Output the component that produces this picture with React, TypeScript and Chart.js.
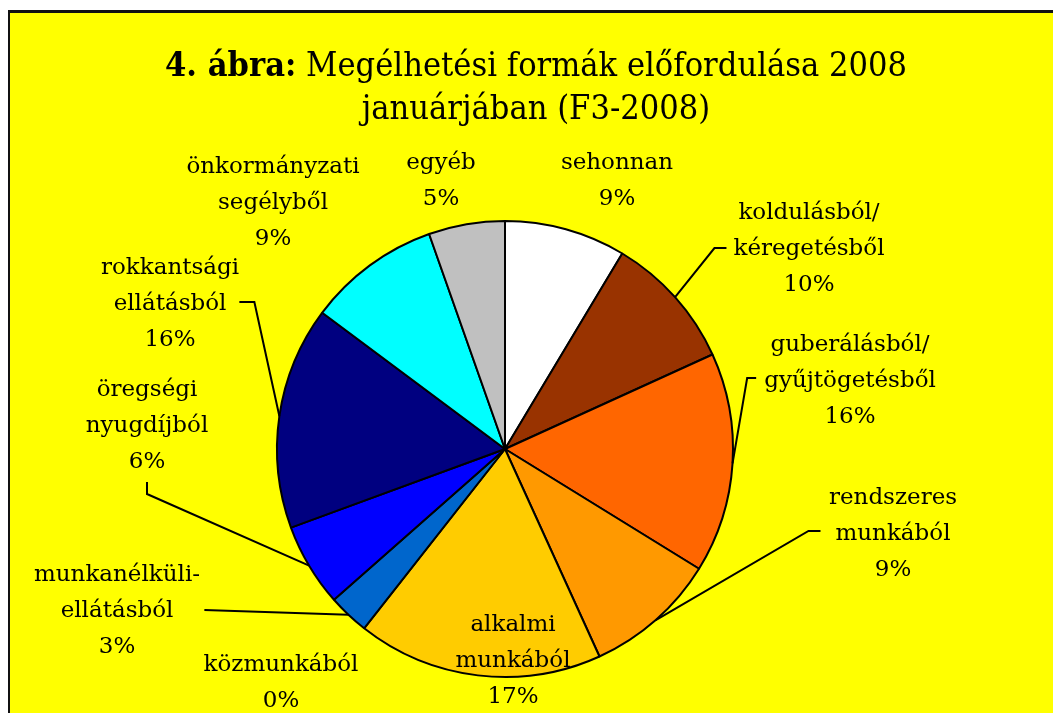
import React, { useEffect, useRef } from "react";
import { Chart, registerables } from "chart.js";

Chart.register(...registerables);

// ---- data ----
const categories: string[][] = [
  ["sehonnan"],
  ["koldulásból/", "kéregetésből"],
  ["guberálásból/", "gyűjtögetésből"],
  ["rendszeres", "munkából"],
  ["alkalmi", "munkából"],
  ["közmunkából"],
  ["munkanélküli-", "ellátásból"],
  ["öregségi", "nyugdíjból"],
  ["rokkantsági", "ellátásból"],
  ["önkormányzati", "segélyből"],
  ["egyéb"],
];
const values: number[] = [8.6, 9.6, 15.6, 9.4, 17.4, 0, 2.9, 5.9, 15.8, 9.4, 5.4];
const colors: string[] = [
  "#FFFFFF",
  "#993300",
  "#FF6600",
  "#FF9900",
  "#FFCC00",
  "#FFFF99",
  "#0066CC",
  "#0000FF",
  "#000080",
  "#00FFFF",
  "#C0C0C0",
];
const titleBold = "4. ábra:";
const titleRest = " Megélhetési formák előfordulása 2008";
const titleLine2 = "januárjában (F3-2008)";

// ---- layout (label placement relative to pie centre) ----
type Leader = { line: number; side: "left" | "right" | "bottom"; gap: number; elbow: number; dy?: number };
const labelLayout: { dx: number; dy: number; leader?: Leader }[] = [
  { dx: 112, dy: -286 },
  { dx: 304, dy: -236, leader: { line: 1, side: "left", gap: 7, elbow: 12, dy: -1 } },
  { dx: 345, dy: -104, leader: { line: 1, side: "left", gap: 8, elbow: 9, dy: -3 } },
  { dx: 388, dy: 49, leader: { line: 1, side: "left", gap: 15, elbow: 12, dy: -3 } },
  { dx: 8, dy: 176 },
  { dx: -224, dy: 216 },
  { dx: -388, dy: 126, leader: { line: 1, side: "right", gap: 31, elbow: 0, dy: -1 } },
  { dx: -358, dy: -59, leader: { line: 2, side: "bottom", gap: 20, elbow: 12 } },
  { dx: -335, dy: -181, leader: { line: 1, side: "right", gap: 13, elbow: 15, dy: -2 } },
  { dx: -232, dy: -282 },
  { dx: -64, dy: -286 },
];

const FONT = "DejaVu Serif";
const LABEL_SIZE = 23;
const LINE_H = 36;
const W = 1045;
const H = 705;
const PIE_CX = 497;
const PIE_CY = 441;
const PIE_R = 229;

const framePlugin = {
  id: "frame",
  beforeDraw(chart: any) {
    const ctx = chart.ctx as CanvasRenderingContext2D;
    ctx.save();
    ctx.fillStyle = "#FFFFFF";
    ctx.fillRect(0, 0, W, H);
    ctx.fillStyle = "#FFFF00";
    ctx.fillRect(2, 5, W, H);
    ctx.fillStyle = "#111111";
    ctx.fillRect(0, 2, W, 3);
    ctx.fillRect(0, 2, 2, H);
    // title
    ctx.fillStyle = "#000000";
    ctx.textBaseline = "alphabetic";
    ctx.textAlign = "left";
    const size = 34;
    const targetW = 742;
    ctx.font = `bold ${size}px "${FONT}"`;
    const wb = ctx.measureText(titleBold).width;
    ctx.font = `${size}px "${FONT}"`;
    const wr = ctx.measureText(titleRest).width;
    const s = targetW / (wb + wr);
    const cx = 528;
    ctx.translate(cx, 0);
    ctx.scale(s, 1);
    const x = -(wb + wr) / 2;
    ctx.font = `bold ${size}px "${FONT}"`;
    ctx.fillText(titleBold, x, 68);
    ctx.font = `${size}px "${FONT}"`;
    ctx.fillText(titleRest, x + wb, 68);
    ctx.textAlign = "center";
    ctx.fillText(titleLine2, 0, 111);
    ctx.restore();
  },
};

const labelPlugin = {
  id: "pieLabels",
  afterDatasetsDraw(chart: any) {
    const ctx = chart.ctx as CanvasRenderingContext2D;
    const meta = chart.getDatasetMeta(0);
    const total = values.reduce((a, b) => a + b, 0);
    ctx.save();
    ctx.font = `${LABEL_SIZE}px "${FONT}"`;
    ctx.fillStyle = "#000000";
    ctx.strokeStyle = "#000000";
    ctx.lineWidth = 2;
    ctx.textAlign = "center";
    ctx.textBaseline = "alphabetic";
    meta.data.forEach((arc: any, i: number) => {
      const { x, y, startAngle, endAngle, outerRadius } = arc.getProps(
        ["x", "y", "startAngle", "endAngle", "outerRadius"],
        true
      );
      const lay = labelLayout[i];
      const lines = [...categories[i], `${Math.round((values[i] / total) * 100)}%`];
      const cx = x + lay.dx;
      const y0 = y + lay.dy;
      lines.forEach((t, k) => {
        ctx.fillText(t, cx, y0 + k * LINE_H + 6);
      });
      if (lay.leader) {
        const L = lay.leader;
        const mid = (startAngle + endAngle) / 2;
        const ax = x + Math.cos(mid) * outerRadius;
        const ay = y + Math.sin(mid) * outerRadius;
        let ex = 0, ey = 0, bx = 0, by = 0;
        if (L.side === "bottom") {
          ex = cx;
          ey = y0 + L.line * LINE_H + L.gap;
          bx = ex;
          by = ey + L.elbow;
        } else {
          const w = ctx.measureText(lines[L.line]).width;
          ey = y0 + L.line * LINE_H + (L.dy || 0);
          if (L.side === "left") {
            ex = cx - w / 2 - L.gap;
            bx = ex - L.elbow;
          } else {
            ex = cx + w / 2 + L.gap;
            bx = ex + L.elbow;
          }
          by = ey;
        }
        ctx.beginPath();
        ctx.moveTo(ax, ay);
        ctx.lineTo(bx, by);
        ctx.lineTo(ex, ey);
        ctx.stroke();
      }
    });
    ctx.restore();
  },
};

export default function App() {
  const ref = useRef<HTMLCanvasElement | null>(null);
  useEffect(() => {
    if (!ref.current) return;
    const chart = new Chart(ref.current, {
      type: "pie",
      data: {
        labels: categories.map((c) => c.join(" ")),
        datasets: [
          {
            data: values,
            backgroundColor: colors,
            borderColor: "#000000",
            borderWidth: 2,
          },
        ],
      },
      options: {
        responsive: false,
        animation: false,
        devicePixelRatio: 1,
        layout: {
          padding: {
            left: PIE_CX - PIE_R,
            right: W - (PIE_CX + PIE_R),
            top: PIE_CY - PIE_R,
            bottom: H - (PIE_CY + PIE_R),
          },
        },
        plugins: {
          legend: { display: false },
          tooltip: { enabled: false },
          title: { display: false },
        },
      },
      plugins: [framePlugin, labelPlugin],
    });
    return () => chart.destroy();
  }, []);
  return (
    <div style={{ position: "fixed", left: 8, top: 8, width: W, height: H }}>
      <canvas ref={ref} width={W} height={H} style={{ display: "block", width: W, height: H }} />
    </div>
  );
}
